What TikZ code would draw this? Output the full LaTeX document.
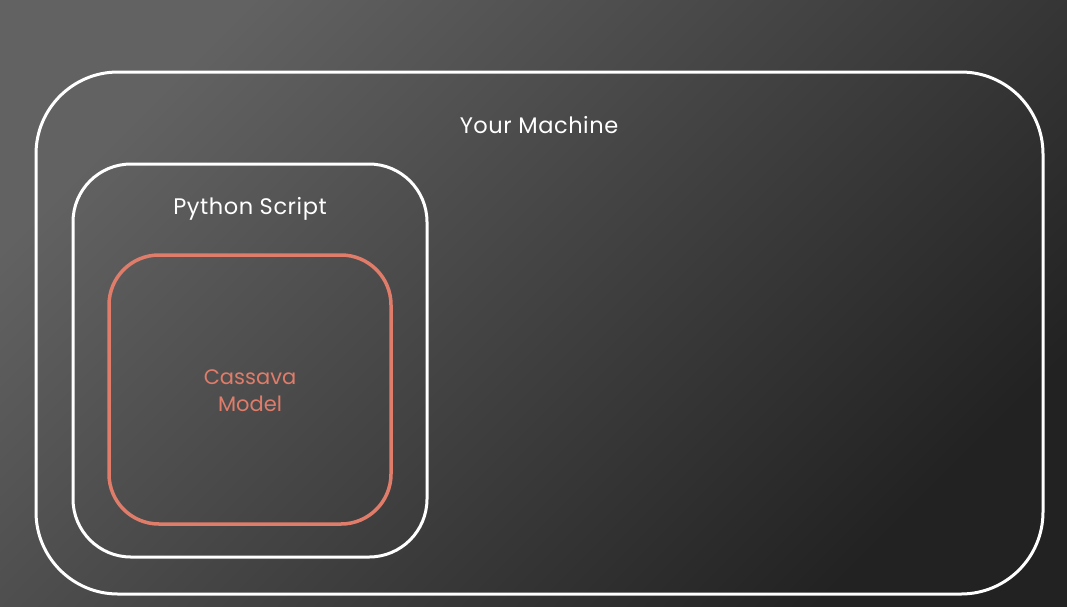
\documentclass[tikz,border=0pt]{standalone}
\usepackage{fontspec}
\setmainfont{Poppins}
\newfontfamily\labelfont[LetterSpace=2.5]{Poppins}
\definecolor{bglight}{HTML}{626262}
\definecolor{bgdark}{HTML}{222222}
\definecolor{coral}{HTML}{E07C6A}
\tikzset{
  box/.style={draw=white, line width=3pt},
  lbl/.style={text=white, font=\labelfont\fontsize{22.5}{27}\selectfont, inner sep=0pt, align=center},
  modellbl/.style={text=coral, font=\fontsize{21}{27}\selectfont, inner sep=0pt, align=center},
}
\begin{document}
\begin{tikzpicture}[x=1pt,y=-1pt]
\useasboundingbox (0,0) rectangle (1067,606);
\shade[top color=bglight, bottom color=bgdark, shading angle=45] (0,0) rectangle (1067,606);
\draw[box, rounded corners=82pt] (36,72) rectangle (1043,594);
\draw[box, rounded corners=58pt] (73,164) rectangle (427,557);
\draw[box, draw=coral, line width=3.5pt, rounded corners=50pt] (109,255) rectangle (391,524);
\node[lbl] (machine) at (539,125) {Your Machine};
\node[lbl] (script) at (250,209) {Python Script};
\node[modellbl] (model) at (250,391) {Cassava\\Model};
\end{tikzpicture}
\end{document}
